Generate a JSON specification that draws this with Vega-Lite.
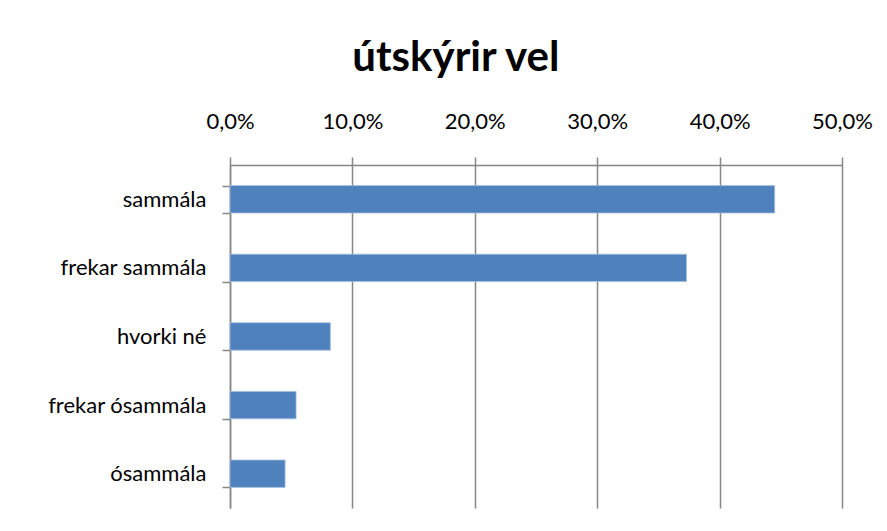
{
  "$schema": "https://vega.github.io/schema/vega-lite/v6.json",
  "width": 612,
  "height": 343,
  "autosize": {"type": "none"},
  "padding": {"left": 230, "top": 165, "right": 45, "bottom": 23},
  "background": "white",
  "config": {
    "locale": {"number": {"decimal": ",", "thousands": ".", "grouping": [3], "currency": ["", " kr."]}},
    "view": {"stroke": null},
    "font": "Lato"
  },
  "title": {
    "text": "útskýrir vel",
    "font": "Lato",
    "fontSize": 42,
    "fontWeight": "bold",
    "color": "#000000",
    "anchor": "middle",
    "frame": "bounds",
    "baseline": "alphabetic",
    "offset": -3,
    "dx": -4
  },
  "data": {
    "values": [
      {"category": "sammála", "value": 0.445},
      {"category": "frekar sammála", "value": 0.373},
      {"category": "hvorki né", "value": 0.082},
      {"category": "frekar ósammála", "value": 0.054},
      {"category": "ósammála", "value": 0.045}
    ]
  },
  "mark": {"type": "bar", "color": "#4F81BD", "stroke": "#a7c0e0", "strokeWidth": 0.8},
  "encoding": {
    "y": {
      "field": "category",
      "type": "nominal",
      "sort": null,
      "scale": {"paddingInner": 0.6, "paddingOuter": 0.3},
      "axis": {
        "title": null,
        "orient": "left",
        "domainColor": "#868686",
        "domainWidth": 1.5,
        "tickColor": "#868686",
        "tickWidth": 1.5,
        "tickSize": 8,
        "tickBand": "extent",
        "labelFontSize": 22,
        "labelColor": "#000000",
        "labelPadding": 16,
        "labelFont": "Lato"
      }
    },
    "x": {
      "field": "value",
      "type": "quantitative",
      "scale": {"domain": [0, 0.5], "nice": false},
      "axis": {
        "title": null,
        "orient": "top",
        "format": ".1%",
        "values": [0, 0.1, 0.2, 0.3, 0.4, 0.5],
        "labelFlush": false,
        "grid": true,
        "gridColor": "#868686",
        "gridWidth": 1.5,
        "domainColor": "#868686",
        "domainWidth": 1.5,
        "tickColor": "#868686",
        "tickWidth": 1.5,
        "tickSize": 8,
        "labelFontSize": 22,
        "labelColor": "#000000",
        "labelPadding": 24,
        "labelFont": "Lato"
      }
    }
  }
}
